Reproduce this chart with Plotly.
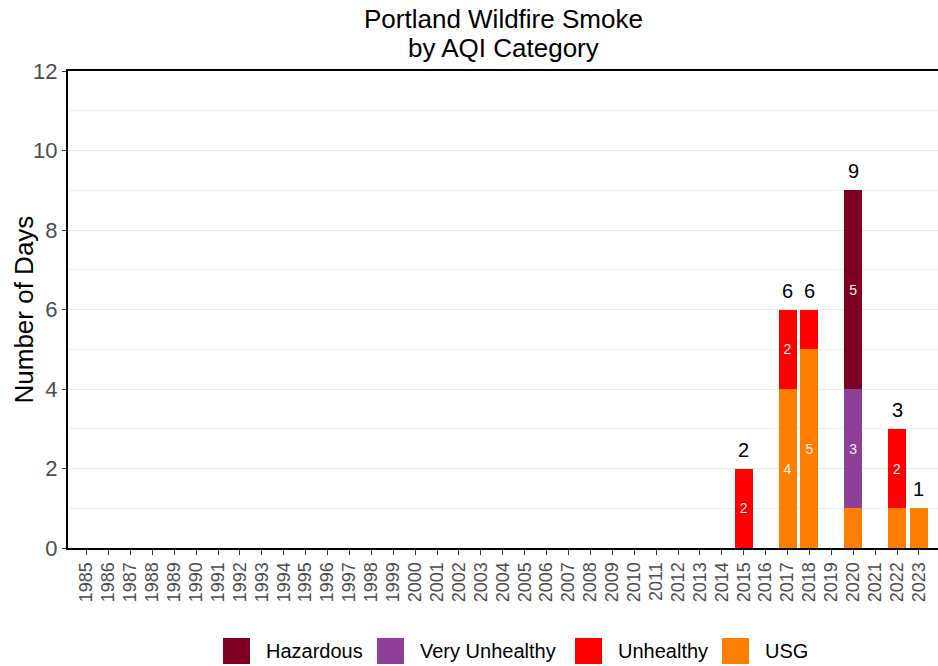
import plotly.graph_objects as go

years = ["1985", "1986", "1987", "1988", "1989", "1990", "1991", "1992", "1993", "1994",
         "1995", "1996", "1997", "1998", "1999", "2000", "2001", "2002", "2003", "2004",
         "2005", "2006", "2007", "2008", "2009", "2010", "2011", "2012", "2013", "2014",
         "2015", "2016", "2017", "2018", "2019", "2020", "2021", "2022", "2023"]

usg = [0, 0, 0, 0, 0, 0, 0, 0, 0, 0,
       0, 0, 0, 0, 0, 0, 0, 0, 0, 0,
       0, 0, 0, 0, 0, 0, 0, 0, 0, 0,
       0, 0, 4, 5, 0, 1, 0, 1, 1]
unhealthy = [0, 0, 0, 0, 0, 0, 0, 0, 0, 0,
             0, 0, 0, 0, 0, 0, 0, 0, 0, 0,
             0, 0, 0, 0, 0, 0, 0, 0, 0, 0,
             2, 0, 2, 1, 0, 0, 0, 2, 0]
very_unhealthy = [0, 0, 0, 0, 0, 0, 0, 0, 0, 0,
                  0, 0, 0, 0, 0, 0, 0, 0, 0, 0,
                  0, 0, 0, 0, 0, 0, 0, 0, 0, 0,
                  0, 0, 0, 0, 0, 3, 0, 0, 0]
hazardous = [0, 0, 0, 0, 0, 0, 0, 0, 0, 0,
             0, 0, 0, 0, 0, 0, 0, 0, 0, 0,
             0, 0, 0, 0, 0, 0, 0, 0, 0, 0,
             0, 0, 0, 0, 0, 5, 0, 0, 0]

series = [("USG", usg, "#FF7E00"),
          ("Unhealthy", unhealthy, "#FF0000"),
          ("Very Unhealthy", very_unhealthy, "#8F3F97"),
          ("Hazardous", hazardous, "#7E0023")]

totals = [a + b + c + d for a, b, c, d in zip(usg, unhealthy, very_unhealthy, hazardous)]

FONT = "Liberation Sans, Arial, sans-serif"

fig = go.Figure()
for name, vals, color in series:
    fig.add_trace(go.Bar(
        x=years, y=vals, name=name, marker=dict(color=color, line=dict(width=0)),
        text=[str(v) if v > 1 else "" for v in vals],
        textposition="inside", insidetextanchor="middle", textangle=0,
        textfont=dict(color="#F5F5F5", size=14, family=FONT),
        showlegend=False, hoverinfo="x+y+name"))

# total labels above each stacked bar (category index on the category axis)
for i, t in enumerate(totals):
    if t > 0:
        fig.add_annotation(x=i, y=t, xref="x", yref="y", text=str(t), showarrow=False,
                           xanchor="center", yanchor="bottom", yshift=6,
                           font=dict(color="black", size=20, family=FONT))

# pixel helpers for layout-only elements
L, R, T, B = 68, 0, 71, 118
W, H = 938 - L - R, 666 - T - B
def px(x):
    return (x - L) / W
def py(y):
    return (666 - B - y) / H

legend_items = [("Hazardous", "#7E0023", 223), ("Very Unhealthy", "#8F3F97", 377),
                ("Unhealthy", "#FF0000", 575), ("USG", "#FF7E00", 722)]
for name, color, x0 in legend_items:
    fig.add_shape(type="rect", xref="paper", yref="paper",
                  x0=px(x0), x1=px(x0 + 27), y0=py(664), y1=py(638),
                  fillcolor=color, line=dict(width=0), layer="above")
    fig.add_annotation(xref="paper", yref="paper", x=px(x0 + 41), y=py(651),
                       text=name, showarrow=False, xanchor="left", yanchor="middle",
                       font=dict(size=20, color="black", family=FONT))

# title (two lines)
for line, yc in [("Portland Wildfire Smoke", 19), ("by AQI Category", 48)]:
    fig.add_annotation(xref="paper", yref="paper", x=0.5, y=py(yc),
                       text=line, showarrow=False,
                       xanchor="center", yanchor="middle",
                       font=dict(size=26, color="black", family=FONT))

# y-axis title
fig.add_annotation(xref="paper", yref="paper", x=px(23), y=0.5,
                   text="Number of Days", showarrow=False, textangle=-90,
                   xanchor="center", yanchor="middle",
                   font=dict(size=26, color="black", family=FONT))

fig.update_layout(
    width=938, height=666,
    margin=dict(l=L, r=R, t=T, b=B),
    paper_bgcolor="white", plot_bgcolor="white",
    barmode="stack", bargap=0.18,
    font=dict(family=FONT),
    xaxis=dict(type="category", range=[-0.85, 38.87], tickangle=-90,
               tickmode="linear", tick0=0, dtick=1,
               tickfont=dict(size=18, color="#4D4D4D", family=FONT),
               showline=True, linecolor="black", linewidth=2, mirror=True,
               ticks="outside", ticklen=5, tickcolor="#333333", tickwidth=1,
               showgrid=False, zeroline=False),
    yaxis=dict(range=[0, 12], dtick=2, tick0=0,
               tickfont=dict(size=22, color="#4D4D4D", family=FONT),
               showline=True, linecolor="black", linewidth=2,
               ticks="outside", ticklen=4, tickcolor="#333333", tickwidth=1,
               showgrid=True, gridcolor="#EBEBEB", gridwidth=1,
               minor=dict(dtick=1, showgrid=True, gridcolor="#F0F0F0", gridwidth=1),
               zeroline=False),
)

fig.write_html("out.html", config={"displayModeBar": False},
               post_script="document.body.style.margin='0';document.body.style.overflow='hidden';")
